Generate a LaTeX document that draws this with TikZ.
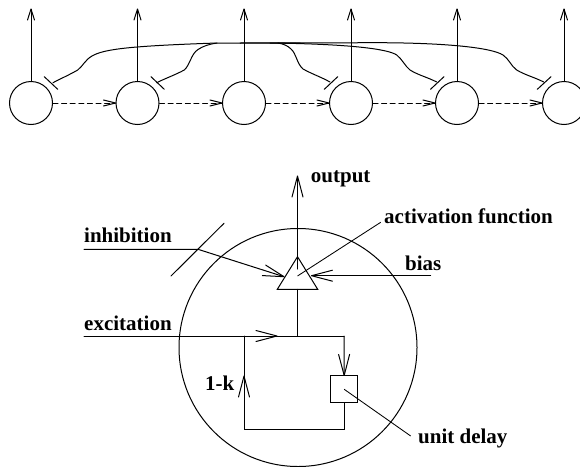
\documentclass[tikz,border=0pt]{standalone}
\usepackage{fontspec}
\setmainfont{Liberation Serif}
\usetikzlibrary{arrows.meta}
\newcommand\mkvee[3]{%
\pgfdeclarearrow{
  name=#1,
  setup code={\pgfarrowssettipend{0pt}\pgfarrowssetlineend{-0.4pt}\pgfarrowssetbackend{-#2}\pgfarrowssetvisualbackend{-#2}%
    \pgfarrowshullpoint{0pt}{0pt}\pgfarrowshullpoint{-#2}{#3}\pgfarrowshullpoint{-#2}{-#3}},
  drawing code={\pgfsetdash{}{0pt}\pgfsetroundjoin\pgfsetroundcap\pgfpathmoveto{\pgfpoint{-#2}{#3}}\pgfpathlineto{\pgfpointorigin}\pgfpathlineto{\pgfpoint{-#2}{-#3}}\pgfusepathqstroke}
}}
\mkvee{VeeSmall}{11pt}{3.5pt}
\mkvee{VeeBig}{21pt}{5.5pt}
\mkvee{VeeDash}{12pt}{3pt}
\tikzset{
  x=1pt,y=-1pt,
  wire/.style={line width=1pt,line cap=round,line join=miter},
  thin wire/.style={line width=0.85pt},
  neuron/.style={circle,draw,line width=1pt,minimum size=43pt,inner sep=0pt},
  smallarrow/.style={-{VeeSmall}},
  bigarrow/.style={-{VeeBig}},
  dasharrow/.style={dash pattern=on 5pt off 3.6pt,-{VeeDash}},
  lab/.style={inner sep=0pt,font=\fontsize{21}{24}\selectfont\bfseries,anchor=base west},
}
\begin{document}
\begin{tikzpicture}
\useasboundingbox (0,0) rectangle (580,466);
\clip (0,0) rectangle (580,466);
% top network
\foreach \n/\px in {a/31,b/137.5,c/244,d/351,e/457,f/564}{
  \node[neuron] (\n) at (\px,103) {};
  \coordinate (\n up) at (\px,9);
  \draw[wire,smallarrow] (\n.north) -- (\n up);
}
\draw[wire,dasharrow] (a.east) -- (b.west);
\draw[wire,dasharrow] (b.east) -- (c.west);
\draw[wire,dasharrow] (c.east) -- (d.west);
\draw[wire,dasharrow] (d.east) -- (e.west);
\draw[wire,dasharrow] (e.east) -- (f.west);
% inhibitory bars
\foreach \n/\px/\qx/\py/\qy in {a1/44.3/57.7/76.7/89.3,b1/151/164.3/76.7/89.3,d1/324.3/337.7/89.3/76.7,e1/430.5/444/89.3/76.7,f1/537.3/551/89.3/76.7}{
  \coordinate (\n s) at (\px,\py);
  \coordinate (\n t) at (\qx,\qy);
  \draw[wire] (\n s) -- (\n t);
}
\draw[wire] (53,82.7) .. controls (62,78) and (70,74.5) .. (77.7,70)
  .. controls (83,66) and (85,60) .. (92,56)
  .. controls (104,49) and (130,46) .. (217,43)
  -- (300,43);
\draw[wire] (156.7,82.7) .. controls (165,78.5) and (175,75) .. (184.3,70)
  .. controls (190,65) and (191,54) .. (198,49.5)
  .. controls (203,46) and (210,44) .. (217,43);
\draw[wire] (330,82) .. controls (321,77) and (312,74) .. (303,69)
  .. controls (297,64) and (296,53) .. (291,49)
  .. controls (288,46) and (284,44) .. (278,43);
\draw[wire] (436.7,82) .. controls (428,77.5) and (418,75) .. (410,70)
  .. controls (405,66) and (402,59) .. (396.7,55)
  .. controls (388,49) and (350,44) .. (270,43);
\draw[wire] (543.7,82) .. controls (535,77.5) and (525,75) .. (516.7,70)
  .. controls (511,66) and (509,59) .. (503,55)
  .. controls (492,48) and (450,43) .. (380,42.7)
  -- (240,43);
% lower unit
\node[circle,draw,line width=1pt,minimum size=238pt,inner sep=0pt] (unit) at (298,347.5) {};
\coordinate (apex) at (297.5,256.7);
\coordinate (bl) at (277.3,289.3);
\coordinate (br) at (317.7,289.3);
\draw[wire] (apex) -- (bl) -- (br) -- cycle;
\coordinate (fn) at (297.5,276);
\coordinate (inner) at (297.5,269);
\coordinate (outtip) at (297.5,176);
\draw[wire,bigarrow] (inner) -- (outtip);
\coordinate (junc) at (297.5,336);
\coordinate (basemid) at (297.5,289.3);
\draw[wire] (basemid) -- (junc);
% inhibition
\coordinate (inhs) at (84,249.3);
\coordinate (inhk) at (198,249.3);
\coordinate (inht) at (284,276.7);
\draw[wire,bigarrow] (inhs) -- (inhk) -- (inht);
\coordinate (sl1) at (171,276);
\coordinate (sl2) at (224,223.3);
\draw[wire] (sl1) -- (sl2);
% bias
\coordinate (biass) at (430.7,275.7);
\coordinate (biast) at (311.5,275.7);
\draw[wire,bigarrow] (biass) -- (biast);
% activation leader
\coordinate (actl) at (380.7,222.3);
\draw[thin wire] (actl) -- (fn);
% excitation
\coordinate (excs) at (84,336);
\coordinate (exct) at (277,336);
\coordinate (corner) at (344,336);
\coordinate (left) at (244,336);
\node[draw,line width=1pt,minimum width=27pt,minimum height=26.7pt,inner sep=0pt] (delay) at (344.2,389.3) {};
\draw[wire,bigarrow] (excs) -- (exct);
\draw[wire] (exct) -- (corner);
\draw[wire,bigarrow] (corner) -- (delay.north);
\coordinate (bot1) at (344.2,429.3);
\coordinate (bot2) at (244,429.3);
\coordinate (upt) at (244,376);
\draw[wire,bigarrow] (delay.south) -- (bot1) -- (bot2) -- (upt);
\draw[wire] (upt) -- (left);
\coordinate (udl) at (410.7,436);
\draw[thin wire] (delay.center) -- (udl);
% labels
\node[lab] (l1) at (310.7,182.3) {output};
\node[lab] (l2) at (384,223.3) {activation function};
\node[lab] (l3) at (84,242.7) {inhibition};
\node[lab] (l4) at (405,270) {bias};
\node[lab] (l5) at (84,330) {excitation};
\node[lab] (l6) at (205,390) {1-k};
\node[lab] (l7) at (418,443) {unit delay};
\end{tikzpicture}
\end{document}
